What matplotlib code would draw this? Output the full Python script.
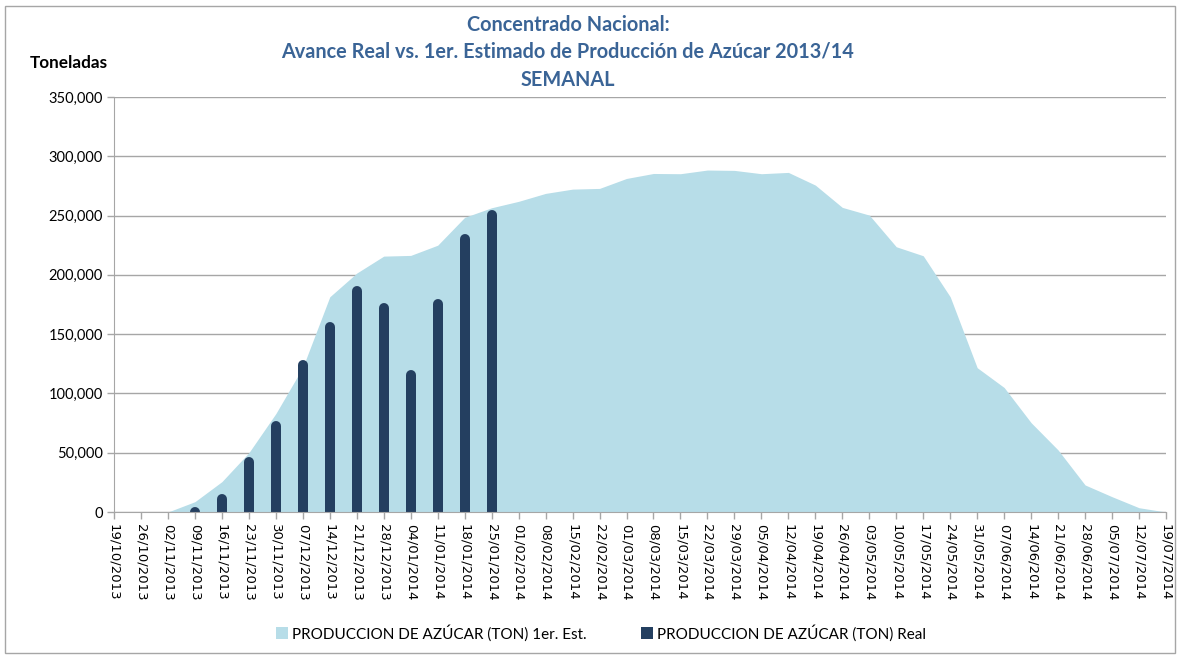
import numpy as np
import matplotlib
matplotlib.use("Agg")
import matplotlib.pyplot as plt
from matplotlib.patches import Patch, Rectangle
from matplotlib.ticker import FuncFormatter

# semanas (categorias del eje x)
semanas = ["19/10/2013", "26/10/2013", "02/11/2013", "09/11/2013", "16/11/2013",
           "23/11/2013", "30/11/2013", "07/12/2013", "14/12/2013", "21/12/2013",
           "28/12/2013", "04/01/2014", "11/01/2014", "18/01/2014", "25/01/2014",
           "01/02/2014", "08/02/2014", "15/02/2014", "22/02/2014", "01/03/2014",
           "08/03/2014", "15/03/2014", "22/03/2014", "29/03/2014", "05/04/2014",
           "12/04/2014", "19/04/2014", "26/04/2014", "03/05/2014", "10/05/2014",
           "17/05/2014", "24/05/2014", "31/05/2014", "07/06/2014", "14/06/2014",
           "21/06/2014", "28/06/2014", "05/07/2014", "12/07/2014", "19/07/2014"]

# 1er. estimado (area)
estimado = [0, 0, 0, 8700, 25600, 50000, 83000, 122000, 181500, 201500,
            215800, 216400, 225000, 248500, 256600, 262000, 268700, 272300, 272900, 281300,
            285500, 285300, 288400, 288100, 285300, 286400, 275700, 256900, 250400, 223700,
            216100, 181500, 121700, 105000, 75300, 52300, 22800, 12900, 3600, 0]

# real (barras), solo las primeras semanas
real_idx = list(range(3, 15))
real = [3500, 15000, 46500, 77000, 128000, 160500, 190500, 176000, 119700, 180000, 234500, 255000]

COL_AREA = "#B7DDE8"
COL_BAR = "#243F60"
COL_TITLE = "#3A6496"
FONT = ["Lato", "DejaVu Sans"]

fig = plt.figure(figsize=(11.8, 6.58), dpi=100)
ax = fig.add_axes([114/1180, 1-512/658, (1166-114)/1180, (512-97)/658])

x = np.arange(len(semanas))
ax.fill_between(x, estimado, 0, color=COL_AREA, linewidth=0, zorder=2)

# barras con tope redondeado
ylim_top = 350000
bar_px = 10
r = bar_px/2 / ((512-97)) * ylim_top
tops = [max(v - r, 0) for v in real]
ax.vlines(real_idx, [-r]*len(real), tops, colors=COL_BAR, linewidth=bar_px*72/100,
          capstyle="round", zorder=3)

ax.set_xlim(0, len(semanas)-1)
ax.set_ylim(0, ylim_top)
ax.set_yticks(np.arange(0, 350001, 50000))
ax.yaxis.set_major_formatter(FuncFormatter(lambda v, p: f"{int(v):,}"))
ax.set_xticks(x)
ax.set_xticklabels(semanas, rotation=-90, fontsize=9.5, family="DejaVu Sans")
for lab in ax.get_yticklabels():
    lab.set_family(FONT)
    lab.set_fontsize(10.5)

ax.grid(axis="y", color="#A6A6A6", linewidth=1.0, zorder=1)
ax.set_axisbelow(True)
for s in ["top", "right"]:
    ax.spines[s].set_visible(False)
ax.spines["left"].set_color("#A6A6A6")
ax.spines["bottom"].set_color("#A6A6A6")
ax.spines["left"].set_zorder(4)
ax.spines["bottom"].set_zorder(4)
ax.tick_params(axis="both", color="#A6A6A6", length=5, width=1, pad=3)
ax.tick_params(axis="x", pad=4)

fig.text(568/1180, 1-25/658, "Concentrado Nacional:", ha="center", va="center",
         fontsize=14.3, fontweight="bold", color=COL_TITLE, family=FONT)
fig.text(568/1180, 1-52/658, "Avance Real vs. 1er. Estimado de Producción de Azúcar 2013/14",
         ha="center", va="center", fontsize=14.3, fontweight="bold", color=COL_TITLE, family=FONT)
fig.text(568/1180, 1-80/658, "SEMANAL", ha="center", va="center",
         fontsize=14.3, fontweight="bold", color=COL_TITLE, family=FONT)
fig.text(69/1180, 1-63/658, "Toneladas", ha="center", va="center",
         fontsize=12.3, fontweight="bold", color="black", family=FONT)

handles = [Patch(facecolor=COL_AREA, edgecolor="none"),
           Patch(facecolor=COL_BAR, edgecolor="none")]
labels = ["PRODUCCION DE AZÚCAR (TON) 1er. Est.", "PRODUCCION DE AZÚCAR (TON) Real"]
fig.legend(handles, labels, loc="center", bbox_to_anchor=(601/1180, 1-633/658), ncol=2,
           frameon=False, prop={"family": FONT, "size": 11}, handlelength=0.8,
           handleheight=0.8, handletextpad=0.3, columnspacing=3.5)

fig.patches.append(Rectangle((5/1180, 5/658), 1170/1180, 647/658, transform=fig.transFigure,
                             fill=False, edgecolor="#A6A6A6", linewidth=1))

fig.savefig("out.png", dpi=100)
